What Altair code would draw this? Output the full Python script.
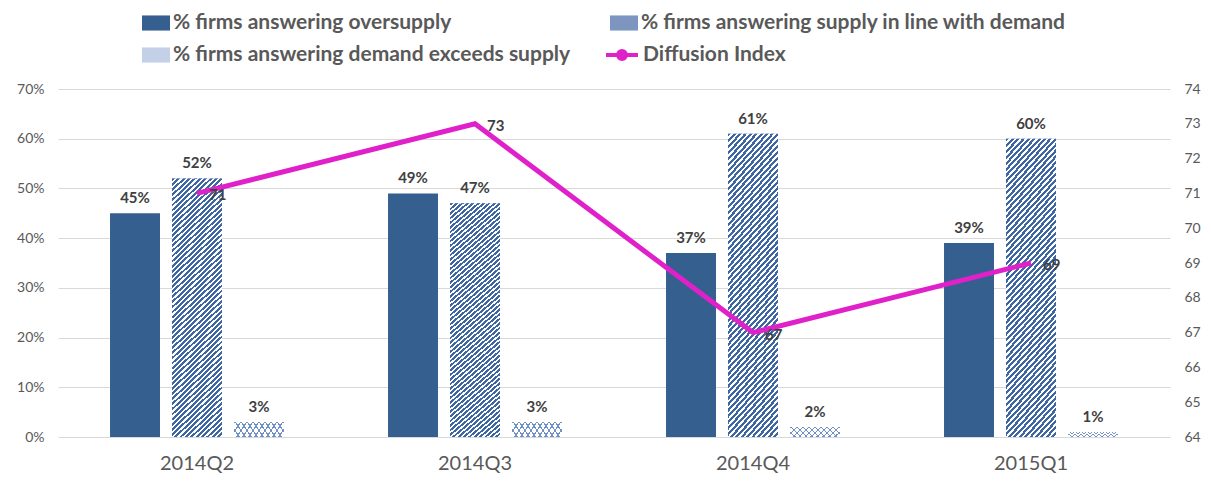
import altair as alt
import pandas as pd

quarters = ["2014Q2", "2014Q3", "2014Q4", "2015Q1"]
series_names = [
    "% firms answering oversupply",
    "% firms answering supply in line with demand",
    "% firms answering demand exceeds supply",
]
oversupply = [45, 49, 37, 39]
in_line = [52, 47, 61, 60]
demand_exceeds = [3, 3, 2, 1]
diffusion = [71, 73, 67, 69]
line_name = "Diffusion Index"

FONT = "Lato"
TXT = "#595959"
DARK = "#355f8f"
STRIPE = "#3d66a3"
HATCH = "#6f90c8"
MAG = "#e020c8"

rows = []
for name, vals in zip(series_names, [oversupply, in_line, demand_exceeds]):
    for q, v in zip(quarters, vals):
        rows.append({"quarter": q, "series": name, "value": v / 100, "label": f"{v}%"})
bars_df = pd.DataFrame(rows)
line_df = pd.DataFrame({
    "quarter": quarters,
    "index": diffusion,
    "name": [line_name] * len(quarters),
    "label": [str(v) for v in diffusion],
})


def stripe_stops(n, frac, ink, paper):
    out = []
    for i in range(n):
        a, b, c = i / n, (i + frac) / n, (i + 1) / n
        out += [
            alt.GradientStop(offset=a, color=ink),
            alt.GradientStop(offset=b, color=ink),
            alt.GradientStop(offset=b, color=paper),
            alt.GradientStop(offset=c, color=paper),
        ]
    return out


# diagonal "/" stripes for the tall "in line" bars
stripes = alt.LinearGradient(gradient="linear", stops=stripe_stops(60, 0.55, STRIPE, "#ffffff"),
                             x1=0, y1=0, x2=0.2095, y2=1.145)
# cross hatch for the small "demand exceeds" bars
hatch_a = alt.LinearGradient(gradient="linear", stops=stripe_stops(10, 0.22, HATCH, "#ffffff"),
                             x1=0, y1=0, x2=1.154, y2=0.231)
hatch_b = alt.LinearGradient(gradient="linear",
                             stops=stripe_stops(10, 0.22, HATCH, "rgba(255,255,255,0)"),
                             x1=1, y1=0, x2=-0.154, y2=0.231)

x_enc = alt.X(
    "quarter:N", sort=quarters,
    scale=alt.Scale(paddingInner=0.331, paddingOuter=0.1655),
    axis=alt.Axis(title=None, labelAngle=0, domain=False, ticks=False, grid=False,
                  labelPadding=16, labelFontSize=20, labelColor=TXT, labelFont=FONT),
)
xoff_enc = alt.XOffset(
    "series:N", sort=series_names,
    scale=alt.Scale(domain=series_names, paddingInner=0.194, paddingOuter=0.097),
)
y_axis = alt.Axis(format="%", values=[0, 0.1, 0.2, 0.3, 0.4, 0.5, 0.6, 0.7], title=None,
                  domain=False, ticks=False, labelPadding=14, grid=True, gridColor="#d9d9d9",
                  labelFontSize=14, labelColor=TXT, labelFont=FONT)
y_enc = alt.Y("value:Q", scale=alt.Scale(domain=[0, 0.7]), axis=y_axis)

RECT = "M-1,-0.54L1,-0.54L1,0.54L-1,0.54Z"
bars = alt.Chart(bars_df).mark_bar().encode(
    x=x_enc, xOffset=xoff_enc, y=y_enc,
    color=alt.Color(
        "series:N",
        scale=alt.Scale(domain=series_names, range=[DARK, "#7d96c0", "#c3d0e8"]),
        legend=alt.Legend(title=None, orient="none", legendX=84, legendY=-80, columns=2,
                          direction="horizontal",
                          symbolType=RECT, symbolSize=784, symbolStrokeWidth=0,
                          labelFont=FONT, labelFontSize=21, labelFontWeight="bold",
                          labelColor=TXT, labelOffset=3, rowPadding=8, columnPadding=39,
                          labelLimit=600),
    ),
)
overlay = alt.Chart(bars_df).transform_filter(
    alt.datum.series == series_names[1]
).mark_bar(fill=stripes).encode(x=x_enc, xOffset=xoff_enc, y=y_enc)
hatch1 = alt.Chart(bars_df).transform_filter(
    alt.datum.series == series_names[2]
).mark_bar(fill=hatch_a).encode(x=x_enc, xOffset=xoff_enc, y=y_enc)
hatch2 = alt.Chart(bars_df).transform_filter(
    alt.datum.series == series_names[2]
).mark_bar(fill=hatch_b).encode(x=x_enc, xOffset=xoff_enc, y=y_enc)

bar_text = alt.Chart(bars_df).mark_text(
    dy=-7, baseline="bottom", font=FONT, fontSize=15, fontWeight="bold", color="#404040"
).encode(x=x_enc, xOffset=xoff_enc, y=y_enc, text="label:N")

r_axis = alt.Axis(orient="right", values=list(range(64, 75)), title=None, grid=False,
                  domain=False, ticks=False, labelPadding=14, labelFontSize=14,
                  labelColor=TXT, labelFont=FONT)
yr_enc = alt.Y("index:Q", scale=alt.Scale(domain=[64, 74]), axis=r_axis)

line = alt.Chart(line_df).mark_line(strokeWidth=5).encode(
    x=x_enc, y=yr_enc,
    stroke=alt.Stroke(
        "name:N", scale=alt.Scale(domain=[line_name], range=[MAG]),
        legend=alt.Legend(title=None, orient="none", legendX=546, legendY=-52,
                          symbolType="M-1,0L1,0M-0.25,0A0.25,0.25,0,1,0,0.25,0A0.25,0.25,0,1,0,-0.25,0",
                          symbolSize=1024, symbolStrokeWidth=4, symbolFillColor=MAG,
                          labelFont=FONT, labelFontSize=21, labelFontWeight="bold",
                          labelColor=TXT, labelOffset=3, labelLimit=500),
    ),
)
line_text = alt.Chart(line_df).mark_text(
    align="left", baseline="middle", dx=12, dy=2, font=FONT, fontSize=15,
    fontWeight="bold", color="#404040"
).encode(x=x_enc, y=yr_enc, text="label:N")

chart = alt.layer(
    alt.layer(bars, overlay, hatch1, hatch2, bar_text),
    alt.layer(line, line_text),
).resolve_scale(y="independent").properties(
    width=1112, height=348,
    autosize=alt.AutoSizeParams(type="none"),
    padding={"left": 50, "top": 81, "right": 33, "bottom": 37},
).configure_view(stroke=None)

chart.save("out.html", embed_options={"renderer": "svg", "actions": False})
